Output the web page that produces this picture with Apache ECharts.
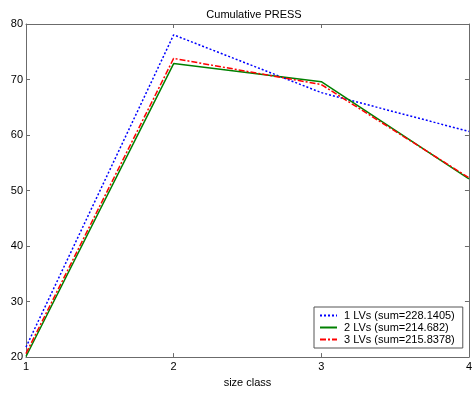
<!DOCTYPE html>
<html><head><meta charset="utf-8">
<script src="https://cdn.jsdelivr.net/npm/echarts@6/dist/echarts.min.js"></script>
<style>html,body{margin:0;padding:0;background:#fff}#c{width:475px;height:393px}</style>
</head><body><div id="c"></div>
<script>
const categories = [1, 2, 3, 4];
const xTickLabels = ['1', '2', '3', '4'];
const yTicks = [20, 30, 40, 50, 60, 70, 80];
const seriesNames = ['1 LVs (sum=228.1405)', '2 LVs (sum=214.682)', '3 LVs (sum=215.8378)'];
const lv1 = [21.8, 78.05, 67.64, 60.65];
const lv2 = [20.11, 72.87, 69.6, 52.1];
const lv3 = [20.64, 73.8, 69.1, 52.3];

const font = 'Liberation Sans, Arial, sans-serif';
const axisCol = '#6b6b6b';
const pairs = v => categories.map((c, i) => [c, v[i]]);

const chart = echarts.init(document.getElementById('c'));
chart.setOption({
  animation: false,
  backgroundColor: '#fff',
  title: {text: 'Cumulative PRESS', left: 249, top: 4, textAlign: 'center',
    textStyle: {fontFamily: font, fontSize: 11, fontWeight: 'normal', color: '#000'}},
  grid: {left: 26, right: 3, top: 24, bottom: 30},
  legend: {
    orient: 'vertical', left: 314, top: 307,
    backgroundColor: '#fff', borderColor: '#555', borderWidth: 1,
    padding: [3, 8, 3, 5], itemGap: 1, itemWidth: 17, itemHeight: 10,
    itemStyle: {opacity: 0},
    textStyle: {fontFamily: font, fontSize: 11, color: '#000', padding: [0, 0, 0, 2]},
    data: seriesNames
  },
  xAxis: [{
    type: 'value', min: 1, max: 4, interval: 1,
    name: 'size class', nameLocation: 'middle', nameGap: 17,
    nameTextStyle: {fontFamily: font, fontSize: 11, color: '#000'},
    axisLine: {show: true, lineStyle: {color: axisCol}},
    axisTick: {show: true, inside: true, length: 4, lineStyle: {color: axisCol}},
    axisLabel: {fontFamily: font, fontSize: 11, color: '#000', margin: 4,
      formatter: v => xTickLabels[categories.indexOf(v)] || ''},
    splitLine: {show: false}
  }, {
    type: 'value', min: 1, max: 4, interval: 1, position: 'top',
    axisLine: {show: true, lineStyle: {color: axisCol}},
    axisTick: {show: true, inside: true, length: 4, lineStyle: {color: axisCol}},
    axisLabel: {show: false}, splitLine: {show: false}
  }],
  yAxis: [{
    type: 'value', min: yTicks[0], max: yTicks[yTicks.length - 1], interval: 10,
    axisLine: {show: true, lineStyle: {color: axisCol}},
    axisTick: {show: true, inside: true, length: 4, lineStyle: {color: axisCol}},
    axisLabel: {fontFamily: font, fontSize: 11, color: '#000', margin: 3},
    splitLine: {show: false}
  }, {
    type: 'value', min: yTicks[0], max: yTicks[yTicks.length - 1], interval: 10, position: 'right',
    axisLine: {show: true, lineStyle: {color: axisCol}},
    axisTick: {show: true, inside: true, length: 4, lineStyle: {color: axisCol}},
    axisLabel: {show: false}, splitLine: {show: false}
  }],
  series: [
    {name: seriesNames[0], type: 'line', data: pairs(lv1), showSymbol: false, symbol: 'none',
      color: '#0000ff', lineStyle: {color: '#0000ff', width: 1.5, type: [2, 2]}},
    {name: seriesNames[1], type: 'line', data: pairs(lv2), showSymbol: false, symbol: 'none',
      color: '#008000', lineStyle: {color: '#008000', width: 1.5, type: 'solid'}},
    {name: seriesNames[2], type: 'line', data: pairs(lv3), showSymbol: false, symbol: 'none',
      color: '#ff0000', lineStyle: {color: '#ff0000', width: 1.5, type: [6, 2, 2, 2]}}
  ]
});
</script></body></html>
